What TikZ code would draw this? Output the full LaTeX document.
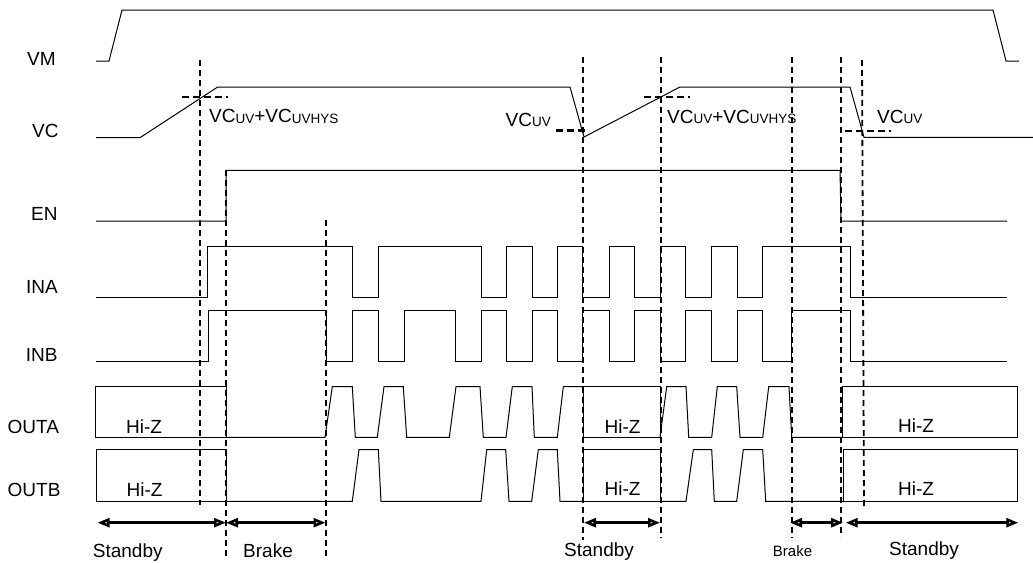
\documentclass[tikz,border=0pt]{standalone}
\usepackage{fontspec}
\setmainfont{Liberation Sans}
\usetikzlibrary{arrows.meta}
\newcommand{\lowsub}[1]{\raisebox{-0.6pt}{\fontsize{13.5}{14}\selectfont #1}}
\tikzset{
  sig/.style={line width=1pt, black, line join=miter},
  vdash/.style={line width=1.8pt, black, dash pattern=on 6pt off 4pt},
  hdash/.style={line width=2.8pt, black, dash pattern=on 7pt off 4pt},
  lbl/.style={anchor=base west, inner sep=0pt, font=\fontsize{19}{21}\selectfont},
  sublbl/.style={anchor=base west, inner sep=0pt, font=\fontsize{19}{21}\selectfont},
  span/.style={line width=2.6pt, black, {Triangle[open,length=12pt,width=9pt]}-{Triangle[open,length=12pt,width=9pt]}},
}
\begin{document}
\begin{tikzpicture}[x=1pt,y=-1pt]
\useasboundingbox (0,0) rectangle (1033,562);

% signal names
\node[lbl] (nVM)   at (27,65)    {VM};
\node[lbl] (nVC)   at (32,137.7) {VC};
\node[lbl] (nEN)   at (31,220)   {EN};
\node[lbl] (nINA)  at (26,293.3) {INA};
\node[lbl] (nINB)  at (25.7,361) {INB};
\node[lbl] (nOUTA) at (7.5,433.3) {OUTA};
\node[lbl] (nOUTB) at (7.5,496.7) {OUTB};

% VM
\draw[sig] (96,61)--(109,61)--(122,10)--(993,10)--(1006,61)--(1019,61);
% VC
\draw[sig] (96,137.7)--(140,137.7)--(217.7,87)--(570,87)--(584,137)--(680,87)--(850,87)--(864,137.3)--(1033,137.3);
% EN
\draw[sig] (96,221)--(226,221)--(226,170.3)--(840,170.3)--(841,221)--(1007,221);
% INA
\draw[sig] (96,297.3) -| (207.5,246.7) -| (352.7,297.3) -| (378.7,246.7) -| (481,297.3)
  -| (506.7,246.7) -| (532,297.3) -| (557.7,246.7) -| (582.7,297.3) -| (609,246.7)
  -| (634.3,297.3) -| (660.7,246.7) -| (685.7,297.3) -| (711.7,246.7) -| (737.3,297.3)
  -| (762.7,246.7) -| (850.7,297.3) -- (1007,297.3);
% INB
\draw[sig] (96,361.3) -| (208.3,310) -| (326,361.3) -| (352.7,310) -| (378.7,361.3)
  -| (404,310) -| (455.7,361.3) -| (481,310) -| (506.7,361.3) -| (532,310)
  -| (557.7,361.3) -| (582.7,310) -| (609,361.3) -| (634.3,310) -| (660.7,361.3)
  -| (685.7,310) -| (711.7,361.3) -| (737.3,310) -| (762.7,361.3) -| (791.7,310)
  -| (850.7,361.3) -- (1007,361.3);

% OUTA
\draw[sig] (95,386.7) rectangle (226,437.3);
\draw[sig] (226,437.3)--(325,437.3)--(332.3,386.7)--(352.3,386.7)--(355.3,437.3)--(377.3,437.3)
  --(384,386.7)--(403.3,386.7)--(406.7,437.3)--(449.3,437.3)--(456,386.7)--(480,386.7)
  --(483.3,437.3)--(506,437.3)--(512.3,386.7)--(532,386.7)--(534.3,437.3)--(557.3,437.3)
  --(563.3,386.7)--(583.3,386.7);
\draw[sig] (583.3,386.7) rectangle (660,437.3);
\draw[sig] (660,437.3)--(666.7,386.7)--(686,386.7)--(688.7,437.3)--(711.7,437.3)--(717.3,386.7)
  --(736.7,386.7)--(740,437.3)--(762.7,437.3)--(768.7,386.7)--(789,386.7)--(791.7,437.3)--(842.7,437.3);
\draw[sig] (842.7,386.7) rectangle (1017.3,437.3);

% OUTB
\draw[sig] (96,449.7) rectangle (226,501.3);
\draw[sig] (226,501.3)--(352.3,501.3)--(359,449.7)--(378.3,449.7)--(381,501.3)--(481,501.3)
  --(486.7,449.7)--(505.7,449.7)--(509,501.3)--(531.7,501.3)--(538.3,449.7)--(557.3,449.7)
  --(560,501.3)--(583.3,501.3);
\draw[sig] (583.3,449.7) rectangle (660,501.3);
\draw[sig] (660,501.3)--(686,501.3)--(693.3,449.7)--(711.7,449.7)--(714.3,501.3)--(736.7,501.3)
  --(743.3,449.7)--(762.7,449.7)--(765.7,501.3)--(843,501.3);
\draw[sig] (843,449.7) rectangle (1017.3,501.3);

% Hi-Z labels
\node[lbl] (hz1) at (126,433.3) {Hi-Z};
\node[lbl] (hz2) at (126.5,496)  {Hi-Z};
\node[lbl] (hz3) at (604.5,433)  {Hi-Z};
\node[lbl] (hz4) at (604.5,495.7) {Hi-Z};
\node[lbl] (hz5) at (898,432.3) {Hi-Z};
\node[lbl] (hz6) at (898,495.7) {Hi-Z};

% vertical dashed markers
\draw[vdash] (200,60) -- (200,505);
\draw[vdash] (226,170) -- (226,557);
\draw[vdash] (326,220) -- (326,557);
\draw[vdash] (583,57) -- (583,540);
\draw[vdash] (661,57) -- (661,538);
\draw[vdash] (792,57) -- (792,538);
\draw[vdash] (841,57) -- (841,537);
\draw[vdash] (862,60) -- (864,507);

% threshold dashes
\draw[hdash] (182,97) -- (228,97);
\draw[hdash] (556,130.7) -- (588,130.7);
\draw[hdash] (644,97) -- (690,97);
\draw[hdash] (845,131) -- (891,131);

% threshold labels
\node[sublbl] (th1) at (209,122.7) {VC\lowsub{UV}+VC\lowsub{UVHYS}};
\node[sublbl, anchor=base east] (th2) at (551,126) {VC\lowsub{UV}};
\node[sublbl] (th3) at (667,123) {VC\lowsub{UV}+VC\lowsub{UVHYS}};
\node[sublbl] (th4) at (877,123) {VC\lowsub{UV}};

% state spans
\coordinate (s1a) at (97.5,522.7);
\coordinate (s1b) at (226,522.7);
\coordinate (b1b) at (325.5,522.7);
\coordinate (s2a) at (584,522.7);
\coordinate (s2b) at (660,522.7);
\coordinate (b2a) at (790,522.7);
\coordinate (b2b) at (843,522.7);
\coordinate (s3a) at (845.7,522.7);
\coordinate (s3b) at (1018.3,522.7);
\draw[span] (s1a) -- (s1b);
\draw[span] (s1b) -- (b1b);
\draw[span] (s2a) -- (s2b);
\draw[span] (b2a) -- (b2b);
\draw[span] (s3a) -- (s3b);

\node[lbl] (st1) at (92.7,557) {Standby};
\node[lbl] (br1) at (243,557) {Brake};
\node[lbl] (st2) at (564,556.7) {Standby};
\node[lbl, font=\fontsize{15}{16}\selectfont] (br2) at (772.7,556) {Brake};
\node[lbl] (st3) at (889,555) {Standby};
\end{tikzpicture}
\end{document}
